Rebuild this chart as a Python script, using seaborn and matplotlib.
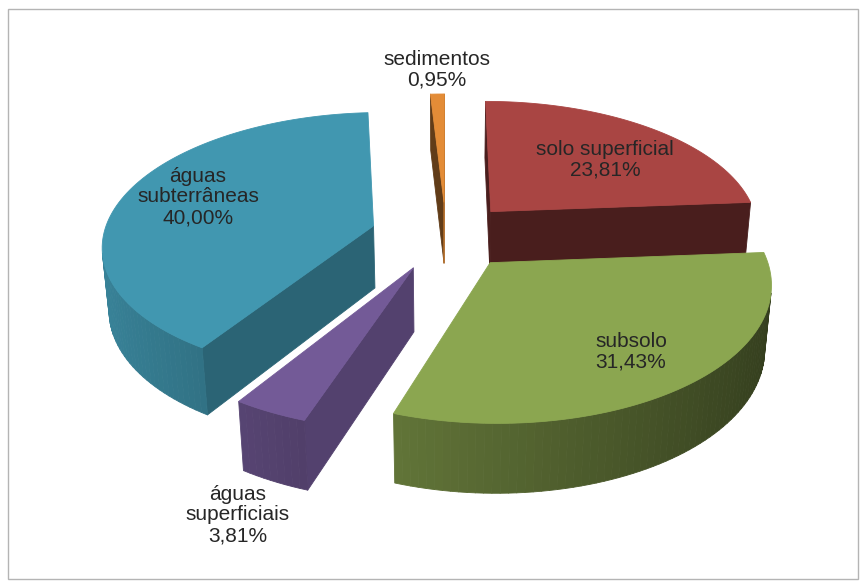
import numpy as np
import seaborn as sns
import matplotlib.pyplot as plt
from matplotlib.patches import Polygon, Rectangle
from matplotlib.colors import to_rgb


################################################################################

CATEGORIES = ["solo superficial", "subsolo", "águas\nsuperficiais",
              "águas\nsubterrâneas", "sedimentos"]
SHARES = [23.81, 31.43, 3.81, 40.00, 0.95]
COLORS = ["#A94543", "#8BA650", "#735A97", "#4197B0", "#E38C37"]
EXPLODE = [0.25, 0.26, 0.27, 0.28, 0.26]

# where each label block is centred, in pixels
LABEL_XY = [(605, 160), (631, 352), (238, 515), (198, 197), (437, 70)]

W, H = 867, 588
CX, CY = 446, 235          # screen position of the pie centre
TILT = np.radians(29)
DIST = 6.5
FOCAL = 1755
DEPTH = 0.27
CAM = np.array([0.0, DIST * np.sin(TILT), -DIST * np.cos(TILT)])


def project(X, Y, Z):
  X, Y, Z = np.asarray(X, float), np.asarray(Y, float), np.asarray(Z, float)
  yc = Y * np.cos(TILT) + Z * np.sin(TILT)
  zc = DIST + Z * np.cos(TILT) - Y * np.sin(TILT)
  return np.c_[CX + FOCAL * X / zc, CY - FOCAL * yc / zc]


def shade(color, f):
  return tuple(np.clip(np.array(to_rgb(color)) * f, 0, 1))


def visible(normal, point):
  return np.dot(normal, CAM - point) > 0


def face(ax, X, Y, Z, color):
  ax.add_patch(Polygon(project(X, Y, Z), closed=True, fc=color, ec=color,
                       lw=0.6, joinstyle="round"))


def drawSlice(ax, t0, t1, off, color):
  mid = (t0 + t1) / 2
  ox, oz = off * np.sin(mid), off * np.cos(mid)
  n = max(int(np.degrees(t1 - t0) / 1.5), 2)
  th = np.linspace(t0, t1, n + 1)
  xs, zs = ox + np.sin(th), oz + np.cos(th)

  # the two cut faces
  for t, nrm in ((t0, np.array([-np.cos(t0), 0, np.sin(t0)])),
                 (t1, np.array([np.cos(t1), 0, -np.sin(t1)]))):
    p = np.array([ox + 0.5 * np.sin(t), -DEPTH / 2, oz + 0.5 * np.cos(t)])
    if visible(nrm, p):
      f = 0.62 + 0.18 * nrm[0] + 0.2 * nrm[2]
      face(ax, [ox, ox + np.sin(t), ox + np.sin(t), ox],
           [0, 0, -DEPTH, -DEPTH],
           [oz, oz + np.cos(t), oz + np.cos(t), oz], shade(color, f))

  # outer rim
  for i in range(n):
    tm = (th[i] + th[i + 1]) / 2
    nrm = np.array([np.sin(tm), 0, np.cos(tm)])
    p = np.array([ox + np.sin(tm), -DEPTH / 2, oz + np.cos(tm)])
    if visible(nrm, p):
      f = 0.62 - 0.25 * nrm[0]
      face(ax, [xs[i], xs[i + 1], xs[i + 1], xs[i]],
           [0, 0, -DEPTH, -DEPTH],
           [zs[i], zs[i + 1], zs[i + 1], zs[i]], shade(color, f))

  # top
  face(ax, np.r_[ox, xs], np.zeros(n + 2), np.r_[oz, zs], color)


def main():
  sns.set_theme(style="white")
  plt.rcParams["font.family"] = ["Liberation Sans", "DejaVu Sans"]

  fig = plt.figure(figsize=(W / 100, H / 100), dpi=100)
  ax = fig.add_axes([0, 0, 1, 1])
  ax.set_xlim(0, W)
  ax.set_ylim(H, 0)
  ax.axis("off")

  ax.add_patch(Rectangle((8, 9), W - 17, H - 18, fill=False,
                         ec="#B4B4B4", lw=1.0))

  shares = np.array(SHARES)
  ends = np.cumsum(shares) / shares.sum() * 2 * np.pi
  starts = np.r_[0, ends[:-1]]

  # paint far slices first
  depth = []
  for t0, t1, off in zip(starts, ends, EXPLODE):
    mid = (t0 + t1) / 2
    depth.append((off + 0.5) * np.cos(mid))
  for i in np.argsort(depth)[::-1]:
    drawSlice(ax, starts[i], ends[i], EXPLODE[i], COLORS[i])

  for cat, val, (x, y) in zip(CATEGORIES, SHARES, LABEL_XY):
    txt = cat + "\n" + ("%.2f%%" % val).replace(".", ",")
    ax.text(x, y, txt, ha="center", va="center", multialignment="center",
            fontsize=15, color="#262626", linespacing=1.1)

  fig.savefig("out.png", dpi=100)

main()
